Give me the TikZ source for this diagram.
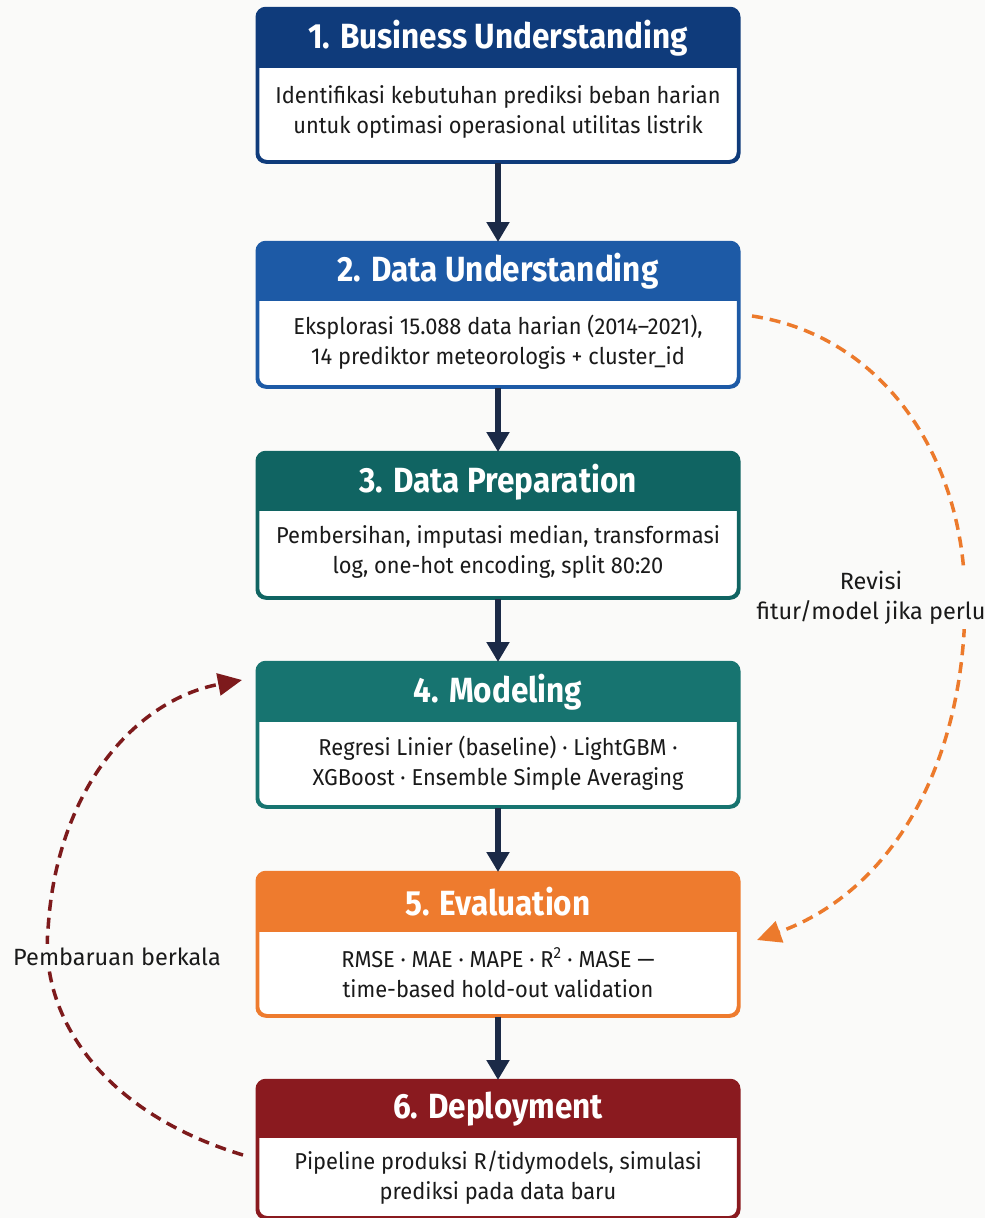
\documentclass[tikz,border=0pt]{standalone}
\usepackage{fontspec}
\setmainfont{Fira Sans}
\usepackage{graphicx}
\usetikzlibrary{arrows.meta,calc}
\definecolor{bgc}{HTML}{FAFAF9}
\definecolor{cA}{HTML}{0F3B7B}
\definecolor{cB}{HTML}{1D5AA6}
\definecolor{cC}{HTML}{106462}
\definecolor{cD}{HTML}{177470}
\definecolor{cE}{HTML}{EE7B2E}
\definecolor{cF}{HTML}{8A1A1F}
\definecolor{flowc}{HTML}{1B2A47}
\definecolor{arcO}{HTML}{EC7A2C}
\definecolor{arcR}{HTML}{7D1A1C}
\definecolor{txt}{HTML}{1A1A1A}
\newcommand\hx[1]{\scalebox{0.9}[1]{#1}}
\newcommand\bx[1]{\scalebox{0.95}[1]{#1}}
\tikzset{
  stagebox/.style={draw, fill=white, line width=2.5pt, rounded corners=9pt,
    minimum width=480pt, inner sep=0pt, anchor=north},
  headtxt/.style={text=white, font=\bfseries\fontsize{35}{38}\selectfont, inner sep=0pt},
  bodytxt/.style={text=txt, align=center, font=\fontsize{23}{30}\selectfont, inner sep=0pt},
  flow/.style={draw=flowc, line width=5.5pt, -{Triangle[length=20pt,width=22pt]}},
  arcstyle/.style={line width=3.5pt, dash pattern=on 11pt off 7pt,
    -{Triangle[length=24pt,width=22pt]}},
  arclabel/.style={fill=bgc, text=txt, align=center, font=\fontsize{23.5}{30}\selectfont, inner sep=4pt}
}
\begin{document}
\begin{tikzpicture}[x=1pt,y=-1pt]
\fill[bgc] (0,0) rectangle (985,1218);
\useasboundingbox (0,0) rectangle (985,1218);

% stage boxes: name, colour, top, header bottom, height
\foreach \nm/\col/\top/\hb/\ht in {B1/cA/8/68/152, B2/cB/242/301/143, B3/cC/452/511/144,
                                   B4/cD/662/722/143, B5/cE/872/932/142, B6/cF/1080/1138/136}{
  \node[stagebox, draw=\col, minimum height=\ht pt] (\nm) at (498,\top) {};
  \begin{scope}
    \clip[rounded corners=9pt] (\nm.north west) rectangle (\nm.south east);
    \fill[\col] (\nm.north west) rectangle (740,\hb);
  \end{scope}
  \draw[\col, line width=2.5pt, rounded corners=9pt] (\nm.north west) rectangle (\nm.south east);
}

\node[headtxt] (H1) at (498,38) {\hx{1. Business Understanding}};
\node[bodytxt] (T1) at (498,112) {\bx{Identifikasi kebutuhan prediksi beban harian}\\\bx{untuk optimasi operasional utilitas listrik}};

\node[headtxt] (H2) at (498,271) {\hx{2. Data Understanding}};
\node[bodytxt] (T2) at (498,342) {\bx{Eksplorasi 15.088 data harian (2014–2021),}\\\bx{14 prediktor meteorologis + cluster\_id}};

\node[headtxt] (H3) at (498,482) {\hx{3. Data Preparation}};
\node[bodytxt] (T3) at (498,552) {\bx{Pembersihan, imputasi median, transformasi}\\\bx{log, one-hot encoding, split 80:20}};

\node[headtxt] (H4) at (498,692) {\hx{4. Modeling}};
\node[bodytxt] (T4) at (498,763) {\bx{Regresi Linier (baseline) · LightGBM ·}\\\bx{XGBoost · Ensemble Simple Averaging}};

\node[headtxt] (H5) at (498,902) {\hx{5. Evaluation}};
\node[bodytxt] (T5) at (498,973) {\bx{RMSE · MAE · MAPE · R\textsuperscript{2} · MASE —}\\\bx{time-based hold-out validation}};

\node[headtxt] (H6) at (498,1109) {\hx{6. Deployment}};
\node[bodytxt] (T6) at (498,1178) {\bx{Pipeline produksi R/tidymodels, simulasi}\\\bx{prediksi pada data baru}};

% main flow
\draw[flow] (B1.south) -- (B2.north);
\draw[flow] (B2.south) -- (B3.north);
\draw[flow] (B3.south) -- (B4.north);
\draw[flow] (B4.south) -- (B5.north);
\draw[flow] (B5.south) -- (B6.north);

% orange feedback arc
\coordinate (o1) at (752,316);
\coordinate (o2) at (757,940);
\draw[arcstyle, draw=arcO]
  (o1) .. controls (885,336) and (965,460) .. (965,600)
       .. controls (965,760) and (895,890) .. (o2);
\node[arclabel] (L1) at (871,598) {Revisi\\fitur/model jika perlu};

% red feedback arc
\coordinate (r1) at (243,1155);
\coordinate (r2) at (242,680);
\draw[arcstyle, draw=arcR]
  (r1) .. controls (95,1110) and (40,1010) .. (48,930)
       .. controls (56,790) and (135,700) .. (r2);
\node[arclabel] (L2) at (117,957) {Pembaruan berkala};
\end{tikzpicture}
\end{document}
